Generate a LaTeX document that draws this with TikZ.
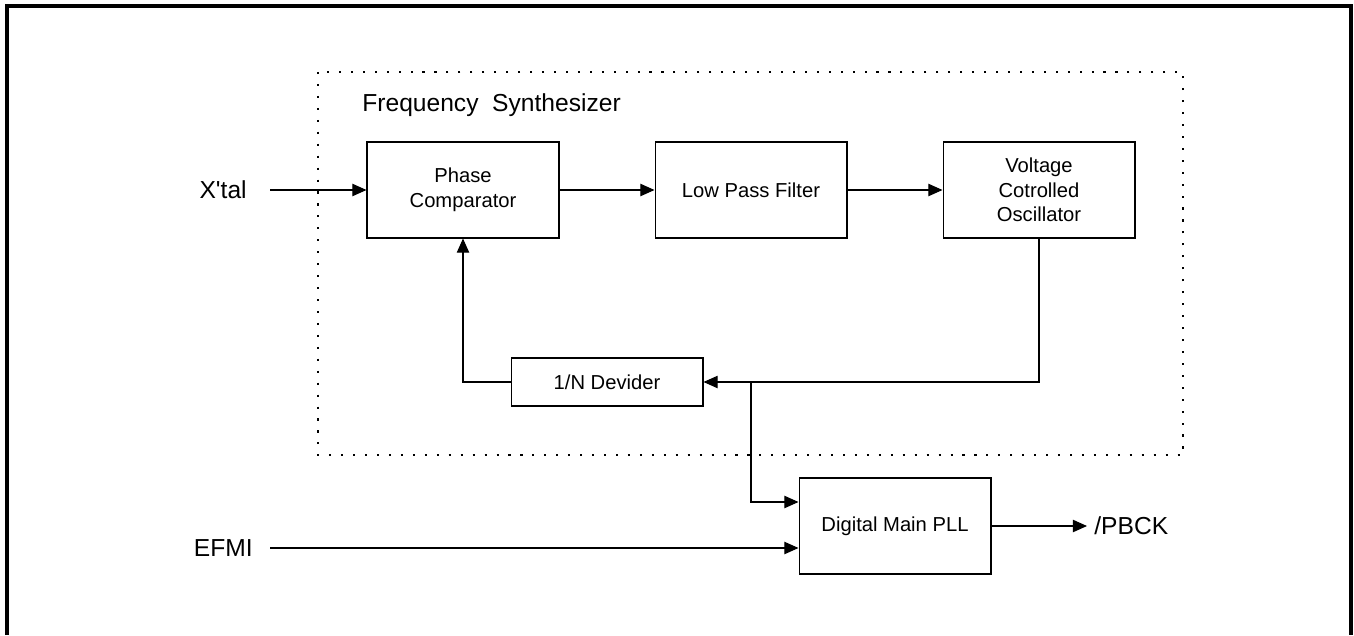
\documentclass[tikz,border=0pt]{standalone}
\usepackage{fontspec}
\setmainfont{Liberation Sans}
\usetikzlibrary{arrows.meta}

\begin{document}
\begin{tikzpicture}[x=0.02cm,y=-0.02cm,
    block/.style={draw,line width=0.6pt,minimum width=3.84cm,minimum height=1.92cm,
      align=center,inner sep=0pt,font=\fontsize{11.5}{14}\selectfont},
    label/.style={inner sep=0pt,font=\fontsize{14}{16}\selectfont},
    wire/.style={line width=0.6pt},
    feed/.style={wire,-{Triangle[length=8pt,width=7pt]}}]
    \useasboundingbox (0,0) rectangle (1354,635);
    % outer frame
    \draw[line width=1.8pt] (7,635) -- (7,6) -- (1351,6) -- (1351,635);
    % synthesizer area
    \draw[line width=1.2pt,dash pattern=on 1.2pt off 5.6pt] (318,72) rectangle (1183,455);
    \node[anchor=west,inner sep=0pt,font=\fontsize{14}{16}\selectfont] (title) at (362,105) {Frequency\ \ Synthesizer};
    % blocks
    \node[block] (pc) at (463,190) {Phase\\Comparator};
    \node[block] (lpf) at (751,190) {Low Pass Filter};
    \node[block] (vco) at (1039,190) {Voltage\\Cotrolled\\Oscillator};
    \node[block,minimum height=0.96cm] (div) at (607,382) {1/N Devider};
    \node[block] (pll) at (895,526) {Digital Main PLL};
    % inputs and output
    \node[label,anchor=east] (xtal) at (247,190) {X\textquotesingle tal};
    \node[label,anchor=east] (efmi) at (253,548) {EFMI};
    \node[label,anchor=west] (pbck) at (1094,526) {/PBCK};
    \coordinate (xin) at (270,190);
    \coordinate (ein) at (270,548);
    \coordinate (pout) at (1087,526);
    \coordinate (branch) at (751,382);
    % connections
    \draw[feed] (xin) -- (pc.west);
    \draw[feed] (pc) -- (lpf);
    \draw[feed] (lpf) -- (vco);
    \draw[feed] (vco.south) |- (div.east);
    \draw[feed] (div.west) -| (pc.south);
    \draw[feed] (branch) |- (pll.west |- 0,502);
    \draw[feed] (ein) -- (pll.west |- ein);
    \draw[feed] (pll.east) -- (pout);
\end{tikzpicture}
\end{document}
